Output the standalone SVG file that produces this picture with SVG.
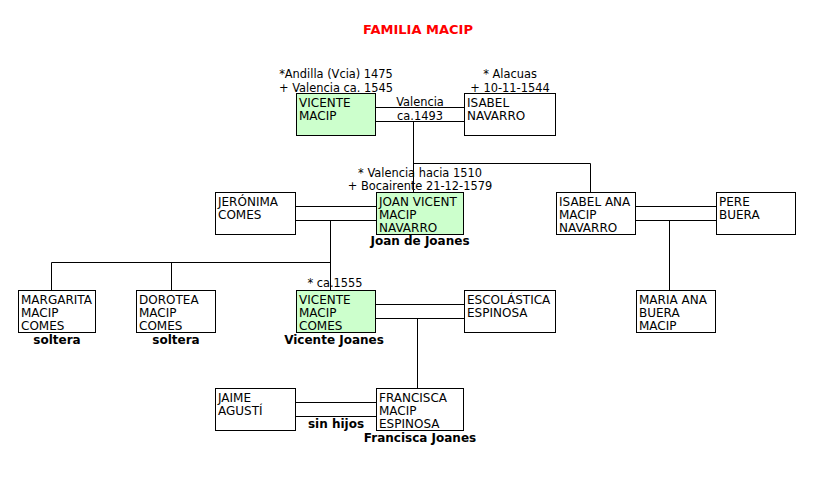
<svg xmlns="http://www.w3.org/2000/svg" width="833" height="493" viewBox="0 0 833 493">
<style>
.box{fill:#ffffff;stroke:#000000;stroke-width:1}
.hl{fill:#ccffcc}
.t{font-family:"DejaVu Sans",Verdana,sans-serif;font-size:12px;fill:#000000}
.s{font-family:"DejaVu Sans",Verdana,sans-serif;font-size:11.4px;fill:#000000;text-anchor:middle}
.b{font-family:"DejaVu Sans",Verdana,sans-serif;font-size:12px;font-weight:bold;fill:#000000;text-anchor:middle}
.title{font-family:"DejaVu Sans",Verdana,sans-serif;font-size:13px;font-weight:bold;fill:#ff0000;text-anchor:middle}
.ln{stroke:#000000;stroke-width:1;fill:none}
</style>
<rect width="833" height="493" fill="#ffffff"/>
<text class="title" x="418" y="34">FAMILIA MACIP</text>

<g id="connectors">
<path class="ln" d="M376 107.5H464M376 121.5H464M413.5 121.5V192M413.5 163.5H590.5V192"/>
<path class="ln" d="M296 206.5H376M296 220.5H376M330.5 220.5V290M51.5 262.5H330.5M51.5 262.5V290M171.5 262.5V290"/>
<path class="ln" d="M636 206.5H716M636 220.5H716M669.5 220.5V290"/>
<path class="ln" d="M376 304.5H464M376 318.5H464M417.5 318.5V388"/>
<path class="ln" d="M296 402.5H376M296 416.5H376"/>
<text class="s" x="420" y="105.5">Valencia</text>
<text class="s" x="420" y="119.5">ca.1493</text>
<text class="b" x="336" y="428">sin hijos</text>
</g>

<g id="vicente-macip">
<text class="s" x="336" y="78">*Andilla (Vcia) 1475</text>
<text class="s" x="336" y="91.5">+ Valencia ca. 1545</text>
<rect class="box hl" x="296.5" y="93.5" width="79" height="42"/>
<text class="t" x="299" y="106.5">VICENTE</text>
<text class="t" x="299" y="120">MACIP</text>
</g>

<g id="isabel-navarro">
<text class="s" x="510" y="78">* Alacuas</text>
<text class="s" x="510" y="91.5">+ 10-11-1544</text>
<rect class="box" x="464.5" y="93.5" width="91" height="42"/>
<text class="t" x="467" y="106.5">ISABEL</text>
<text class="t" x="467" y="120">NAVARRO</text>
</g>

<g id="jeronima-comes">
<rect class="box" x="215.5" y="192.5" width="80" height="42"/>
<text class="t" x="218" y="205.5">JERÓNIMA</text>
<text class="t" x="218" y="219">COMES</text>
</g>

<g id="joan-vicent">
<text class="s" x="420" y="176.5">* Valencia hacia 1510</text>
<text class="s" x="420" y="190">+ Bocairente 21-12-1579</text>
<rect class="box hl" x="376.5" y="192.5" width="87" height="42"/>
<text class="t" x="379" y="205.5">JOAN VICENT</text>
<text class="t" x="379" y="219">MACIP</text>
<text class="t" x="379" y="232.3">NAVARRO</text>
<text class="b" x="420" y="245">Joan de Joanes</text>
</g>

<g id="isabel-ana">
<rect class="box" x="556.5" y="192.5" width="79" height="42"/>
<text class="t" x="559" y="205.5">ISABEL ANA</text>
<text class="t" x="559" y="219">MACIP</text>
<text class="t" x="559" y="232.3">NAVARRO</text>
</g>

<g id="pere-buera">
<rect class="box" x="716.5" y="192.5" width="79" height="42"/>
<text class="t" x="719" y="205.5">PERE</text>
<text class="t" x="719" y="219">BUERA</text>
</g>

<g id="margarita">
<rect class="box" x="18.5" y="290.5" width="77" height="42"/>
<text class="t" x="21" y="303.5">MARGARITA</text>
<text class="t" x="21" y="317">MACIP</text>
<text class="t" x="21" y="330.3">COMES</text>
<text class="b" x="57" y="344">soltera</text>
</g>

<g id="dorotea">
<rect class="box" x="136.5" y="290.5" width="79" height="42"/>
<text class="t" x="139" y="303.5">DOROTEA</text>
<text class="t" x="139" y="317">MACIP</text>
<text class="t" x="139" y="330.3">COMES</text>
<text class="b" x="176" y="344">soltera</text>
</g>

<g id="vicente-comes">
<text class="s" x="335" y="287">* ca.1555</text>
<rect class="box hl" x="296.5" y="290.5" width="79" height="42"/>
<text class="t" x="299" y="303.5">VICENTE</text>
<text class="t" x="299" y="317">MACIP</text>
<text class="t" x="299" y="330.3">COMES</text>
<text class="b" x="334" y="344">Vicente Joanes</text>
</g>

<g id="escolastica">
<rect class="box" x="464.5" y="290.5" width="91" height="42"/>
<text class="t" x="467" y="303.5">ESCOLÁSTICA</text>
<text class="t" x="467" y="317">ESPINOSA</text>
</g>

<g id="maria-ana">
<rect class="box" x="636.5" y="290.5" width="79" height="42"/>
<text class="t" x="639" y="303.5">MARIA ANA</text>
<text class="t" x="639" y="317">BUERA</text>
<text class="t" x="639" y="330.3">MACIP</text>
</g>

<g id="jaime-agusti">
<rect class="box" x="215.5" y="388.5" width="80" height="42"/>
<text class="t" x="218" y="401.5">JAIME</text>
<text class="t" x="218" y="415">AGUSTÍ</text>
</g>

<g id="francisca">
<rect class="box" x="376.5" y="388.5" width="87" height="42"/>
<text class="t" x="379" y="401.5">FRANCISCA</text>
<text class="t" x="379" y="415">MACIP</text>
<text class="t" x="379" y="428.3">ESPINOSA</text>
<text class="b" x="420" y="441.5">Francisca Joanes</text>
</g>
</svg>
